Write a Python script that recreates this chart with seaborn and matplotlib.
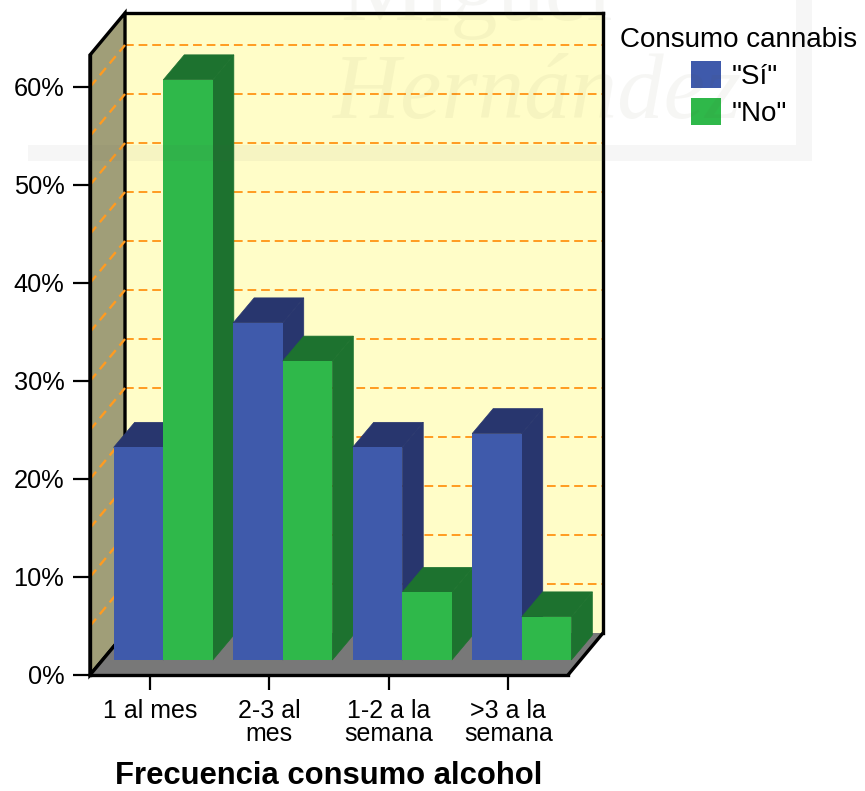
import pandas as pd
import seaborn as sns
import matplotlib.pyplot as plt
from matplotlib.patches import Polygon, Rectangle

# --- data ---
categories = ['1 al mes', '2-3 al\nmes', '1-2 a la\nsemana', '>3 a la\nsemana']
si_values = [21.7, 34.4, 21.7, 23.1]
no_values = [59.2, 30.5, 6.9, 4.4]
y_ticks = [0, 10, 20, 30, 40, 50, 60]
grid_ticks = [5, 10, 15, 20, 25, 30, 35, 40, 45, 50, 55, 60]

SI_FRONT, SI_DARK = '#3F5AAB', '#28366E'
NO_FRONT, NO_DARK = '#2FB84A', '#1D722F'
WALL, SIDE_WALL, FLOOR = '#FFFDC8', '#A09E78', '#787878'
GRID = '#FF9B21'

W, H = 865, 791
LEFT, BOTTOM, AX_W, AX_H = 90, 675, 478, 620
PX_PER_CAT = AX_W / 4
PX_PER_PCT = 9.8


def place(ax_left, ax_bottom, **kw):
    return fig.add_axes([ax_left / W, (H - ax_bottom) / H, AX_W / W, AX_H / H], **kw)


def setup(ax):
    ax.set_xlim(-0.5, 3.5)
    ax.set_ylim(0, AX_H / PX_PER_PCT)


sns.set_theme(style='white')
plt.rcParams['font.family'] = ['Liberation Sans', 'DejaVu Sans']
plt.rcParams['text.color'] = 'black'
plt.rcParams['axes.labelcolor'] = 'black'
plt.rcParams['xtick.labelcolor'] = 'black'
plt.rcParams['ytick.labelcolor'] = 'black'
fig = plt.figure(figsize=(W / 100, H / 100), dpi=100)

# --- back wall with its grid ---
ax_back = place(LEFT + 35, BOTTOM - 42, zorder=0, facecolor=WALL)
setup(ax_back)
ax_back.set_xticks([])
ax_back.set_yticks(grid_ticks)
ax_back.tick_params(left=False, labelleft=False)
ax_back.grid(axis='y', color=GRID, linestyle=(0, (4.5, 2.5)), linewidth=1.4)
ax_back.set_axisbelow(True)
for side in ['top', 'right']:
    ax_back.spines[side].set_color('black')
    ax_back.spines[side].set_linewidth(2.4)
ax_back.spines['left'].set_visible(False)
ax_back.spines['bottom'].set_visible(False)

# --- front plane: axis lines, ticks, left wall and floor ---
ax = place(LEFT, BOTTOM, zorder=1, facecolor='none')
setup(ax)
dx = 35 / PX_PER_CAT
dy = 42 / PX_PER_PCT
top = AX_H / PX_PER_PCT
ax.add_patch(Polygon([(-0.5, 0), (-0.5 + dx, dy), (-0.5 + dx, top + dy), (-0.5, top)],
                     closed=True, facecolor=SIDE_WALL, edgecolor='black',
                     linewidth=2.4, clip_on=False, zorder=1))
ax.add_patch(Polygon([(-0.5, 0), (3.5, 0), (3.5 + dx, dy), (-0.5 + dx, dy)],
                     closed=True, facecolor=FLOOR, edgecolor='none', clip_on=False, zorder=1))
ax.plot([3.5, 3.5 + dx], [0, dy], color='black', linewidth=2.4, clip_on=False, zorder=2)
ax.plot([-0.5, -0.5 + dx], [0, dy], color='black', linewidth=2.4, clip_on=False, zorder=2)
for g in grid_ticks:
    ax.plot([-0.5, -0.5 + dx], [g, g + dy], color=GRID, linestyle=(0, (4, 2.5)),
            linewidth=1.7, clip_on=False, zorder=2)
ax.set_xticks(range(4), categories)
ax.set_yticks(y_ticks, [f'{t}%' for t in y_ticks])
ax.tick_params(axis='x', length=11, width=1.6, color='black', labelsize=18, pad=6.5)
ax.tick_params(axis='y', length=12.5, width=1.6, color='black', labelsize=18.3, pad=6)
for lab in ax.get_xticklabels():
    lab.set_linespacing(0.92)
ax.tick_params(bottom=True, left=True)
sns.despine(ax=ax)
ax.spines['left'].set_color('black')
ax.spines['bottom'].set_color('black')
ax.spines['left'].set_linewidth(2.4)
ax.spines['bottom'].set_linewidth(2.4)
ax.set_xlabel('Frecuencia consumo alcohol', fontsize=22.3, fontweight='bold', labelpad=11)

# --- bars sit on a plane set in from the front axis ---
df = pd.DataFrame({
    'cat': categories * 2,
    'pct': si_values + no_values,
    'cannabis': ['"Sí"'] * 4 + ['"No"'] * 4,
})
ax_bars = place(LEFT + 13.5, BOTTOM - 15, zorder=2, facecolor='none')
sns.barplot(data=df, x='cat', y='pct', hue='cannabis', ax=ax_bars, width=0.83, gap=0,
            palette=[SI_FRONT, NO_FRONT], saturation=1, linewidth=0)
setup(ax_bars)
ax_bars.axis('off')

depth_x = 21 / PX_PER_CAT
depth_y = 25 / PX_PER_PCT
darks = [SI_DARK, NO_DARK]
for h, container in enumerate(ax_bars.containers):
    for c, bar in enumerate(container):
        z = 3 + c * 2 + h * 0.9
        x0, x1 = bar.get_x(), bar.get_x() + bar.get_width()
        y1 = bar.get_height()
        bar.set_zorder(z + 0.5)
        bar.set_clip_on(False)
        ax_bars.add_patch(Polygon([(x0, y1), (x1, y1), (x1 + depth_x, y1 + depth_y), (x0 + depth_x, y1 + depth_y)],
                                  closed=True, facecolor=darks[h], edgecolor=darks[h], linewidth=0.5,
                                  clip_on=False, zorder=z))
        ax_bars.add_patch(Polygon([(x1, 0), (x1 + depth_x, depth_y), (x1 + depth_x, y1 + depth_y), (x1, y1)],
                                  closed=True, facecolor=darks[h], edgecolor=darks[h], linewidth=0.5,
                                  clip_on=False, zorder=z))

sns.move_legend(ax_bars, loc='upper center', bbox_to_anchor=(739 / W, 1 - 27 / H),
                bbox_transform=fig.transFigure, title='Consumo cannabis', frameon=False,
                fontsize=20, title_fontsize=20, handlelength=1.08, handleheight=1.08,
                labelspacing=0.3, handletextpad=0.4, borderpad=0, borderaxespad=0)

# --- faint watermark lying over the whole page ---
mark = dict(color='#555533', alpha=0.05, zorder=20, family=['Liberation Serif', 'DejaVu Serif'])
fig.text(333 / W, 1 - 118 / H, 'Hernández', fontsize=67, style='italic', **mark)
fig.text(340 / W, 1 - 20 / H, 'Miguel', fontsize=68, **mark)
for x_, y_, w_, h_ in [(28, 145, 784, 16), (796, 0, 16, 145)]:
    fig.add_artist(Rectangle((x_ / W, 1 - (y_ + h_) / H), w_ / W, h_ / H, transform=fig.transFigure,
                             facecolor='#555555', alpha=0.05, edgecolor='none', zorder=20))

fig.savefig('out.png', dpi=100)
